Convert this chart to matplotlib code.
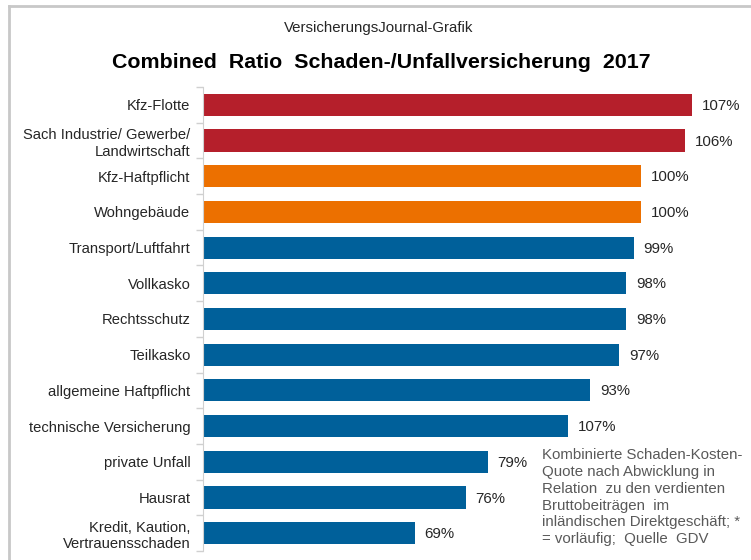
import matplotlib
matplotlib.use('Agg')
from matplotlib import pyplot as plt
from matplotlib.lines import Line2D

# data, top to bottom as in the picture
categories = ['Kfz-Flotte', 'Sach Industrie/ Gewerbe/\nLandwirtschaft', 'Kfz-Haftpflicht',
              'Wohngebäude', 'Transport/Luftfahrt', 'Vollkasko', 'Rechtsschutz', 'Teilkasko',
              'allgemeine Haftpflicht', 'technische Versicherung', 'private Unfall', 'Hausrat',
              'Kredit, Kaution,\nVertrauensschaden']
values = [107, 106, 100, 100, 99, 98, 98, 97, 93, 90, 79, 76, 69]
value_labels = ['107%', '106%', '100%', '100%', '99%', '98%', '98%', '97%', '93%',
                '107%', '79%', '76%', '69%']
groups = ['r', 'r', 'o', 'o', 'b', 'b', 'b', 'b', 'b', 'b', 'b', 'b', 'b']

COLORS = {'r': '#B51F2B', 'o': '#EC7000', 'b': '#00609A'}
TXT = '#262626'
NOTE = ('Kombinierte Schaden-Kosten-\nQuote nach Abwicklung in\nRelation  zu den verdienten\n'
        'Bruttobeiträgen  im\ninländischen Direktgeschäft; *\n= vorläufig;  Quelle  GDV')

plt.rcParams['font.family'] = ['Liberation Sans', 'DejaVu Sans']

W, H = 751, 560
fig = plt.figure(figsize=(W / 100, H / 100), dpi=100)

# axes in pixel terms: left 203, top 87, bottom 551
x0, x1, ytop, ybot = 203, 714, 87, 551
ax = fig.add_axes([x0 / W, 1 - ybot / H, (x1 - x0) / W, (ybot - ytop) / H])

n = len(categories)
ypos = list(range(n))
ax.barh(ypos, [v - 40 for v in values], left=40, height=0.62,
        color=[COLORS[g] for g in groups], zorder=2)
ax.set_xlim(40, 110)
ax.set_ylim(n - 0.5, -0.5)

for y, v, lab in zip(ypos, values, value_labels):
    ax.text(v + 1.35, y + 0.03, lab, va='center', ha='left', fontsize=10.8, color=TXT)

ax.set_yticks(ypos)
ax.set_yticklabels(categories, fontsize=10.6, color=TXT, linespacing=1.25)
ax.tick_params(axis='y', length=0, pad=9)
ax.set_xticks([])
# minor ticks between categories on the left axis line
ax.set_yticks([i - 0.5 for i in range(n + 1)], minor=True)
ax.tick_params(axis='y', which='minor', length=5, color='#D0D0D0', width=1)
for s in ['top', 'right', 'bottom']:
    ax.spines[s].set_visible(False)
ax.spines['left'].set_color('#D0D0D0')

fig.text(379 / W, 1 - 28 / H, 'VersicherungsJournal-Grafik', ha='center', va='center',
         fontsize=10.8, color=TXT)
fig.text(381 / W, 1 - 62 / H, 'Combined  Ratio  Schaden-/Unfallversicherung  2017',
         ha='center', va='center', fontsize=15.4, fontweight='bold', color='black')
fig.text(542 / W, 1 - 448 / H, NOTE, ha='left', va='top', fontsize=10.8, color='#595959',
         linespacing=1.26)

# outer frame (left and top edges)
fig.add_artist(Line2D([8.5 / W, 8.5 / W], [0, 1 - 5.5 / H], color='#C8C8C8', lw=2,
                      transform=fig.transFigure))
fig.add_artist(Line2D([8.5 / W, 1], [1 - 5.5 / H, 1 - 5.5 / H], color='#C8C8C8', lw=2,
                      transform=fig.transFigure))

plt.savefig('out.png', dpi=100)
